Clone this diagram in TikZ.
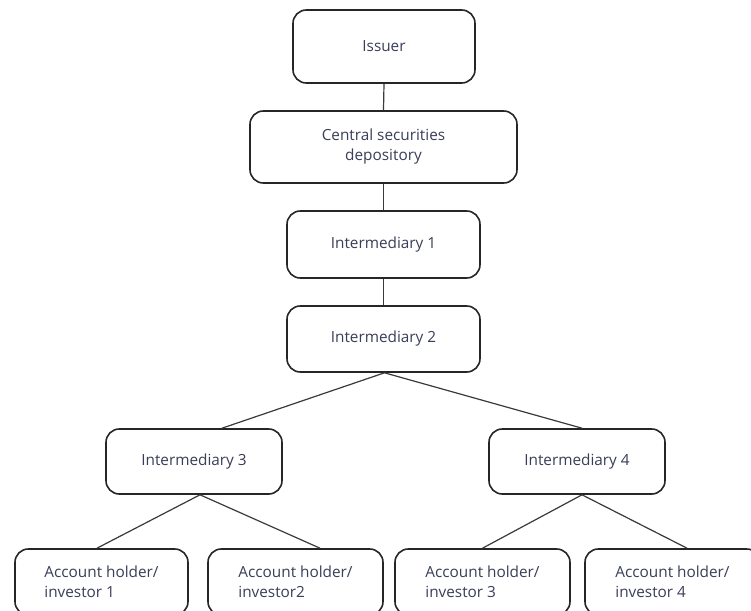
\documentclass[tikz,border=0pt]{standalone}
\usepackage{fontspec}
\setmainfont{Open Sans}
\definecolor{boxline}{HTML}{262626}
\definecolor{linkline}{HTML}{3A3A3A}
\definecolor{txt}{HTML}{3A3E58}
\begin{document}
\begin{tikzpicture}[x=0.75pt,y=-0.75pt,
  box/.style={draw=boxline, line width=1.2pt, rounded corners=10pt, fill=white,
    text=txt, font=\fontsize{11.5pt}{15pt}\selectfont, align=center,
    inner sep=0pt, minimum height=66*0.75pt},
  acc/.style={box, align=left},
  link/.style={draw=linkline, line width=0.9pt}]
\useasboundingbox (0,0) rectangle (751,611);
\clip (0,0) rectangle (751,611);
\fill[white] (0,0) rectangle (751,611);
\node[box, minimum width=182*0.75pt, minimum height=73*0.75pt] (iss) at (384,46.5) {Issuer};
\node[box, minimum width=267*0.75pt, minimum height=72*0.75pt] (csd) at (383.5,147) {Central securities\\depository};
\node[box, minimum width=193*0.75pt, minimum height=67*0.75pt] (i1) at (383.5,244.5) {Intermediary 1};
\node[box, minimum width=193*0.75pt] (i2) at (383.5,339) {Intermediary 2};
\node[box, minimum width=176*0.75pt, minimum height=65*0.75pt] (i3) at (194,461.5) {Intermediary 3};
\node[box, minimum width=176*0.75pt, minimum height=65*0.75pt] (i4) at (577,461.5) {Intermediary 4};
\node[acc, minimum width=173*0.75pt] (a1) at (101.5,582) {Account holder/\\investor 1};
\node[acc, minimum width=175*0.75pt] (a2) at (295.5,582) {Account holder/\\investor2};
\node[acc, minimum width=175*0.75pt] (a3) at (482.5,582) {Account holder/\\investor 3};
\node[acc, minimum width=175*0.75pt] (a4) at (672.5,582) {Account holder/\\investor 4};
\draw[link] (iss.south) -- (csd.north);
\draw[link] (csd.south) -- (i1.north);
\draw[link] (i1.south) -- (i2.north);
\draw[link] ([xshift=0.75pt]i2.south) -- ([xshift=21pt]i3.north);
\draw[link] ([xshift=0.75pt]i2.south) -- ([xshift=3.75pt]i4.north);
\draw[link] ([xshift=4.5pt]i3.south) -- ([xshift=-3.4pt]a1.north);
\draw[link] ([xshift=4.5pt]i3.south) -- ([xshift=18.4pt]a2.north);
\draw[link] ([xshift=3.75pt]i4.south) -- (a3.north);
\draw[link] ([xshift=3.75pt]i4.south) -- ([xshift=10.9pt]a4.north);
\end{tikzpicture}
\end{document}
